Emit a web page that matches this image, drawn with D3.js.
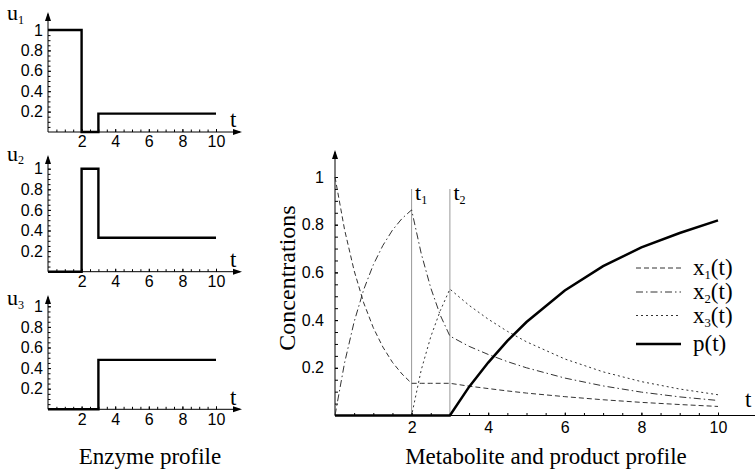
<!DOCTYPE html>
<html>
<head>
<meta charset="utf-8">
<script src="https://cdn.jsdelivr.net/npm/d3@7"></script>
<style>
  body { margin: 0; background: #fff; }
</style>
</head>
<body>
<div id="chart"></div>
<script>
// enzyme profiles (piecewise constant, value holds until next time)
const enzymeTimes = [0, 2, 3, 10];
const u1Values = [1, 0, 0.18, 0.18];
const u2Values = [0, 1, 0.33, 0.33];
const u3Values = [0, 0, 0.48, 0.48];

// metabolite and product concentrations
const times    = [0, 0.25, 0.5, 0.75, 1, 1.25, 1.5, 1.75, 2, 2.25, 2.5, 2.75, 3, 3.5, 4, 4.5, 5, 6, 7, 8, 9, 10];
const x1Values = [1, 0.779, 0.607, 0.472, 0.368, 0.287, 0.223, 0.174, 0.135, 0.135, 0.135, 0.135, 0.135, 0.123, 0.113, 0.103, 0.094, 0.079, 0.066, 0.055, 0.046, 0.038];
const x2Values = [0, 0.221, 0.393, 0.528, 0.632, 0.713, 0.777, 0.826, 0.862, 0.68, 0.535, 0.42, 0.333, 0.29, 0.256, 0.226, 0.2, 0.157, 0.124, 0.098, 0.078, 0.063];
const x3Values = [0, 0, 0, 0, 0, 0, 0, 0, 0, 0.19, 0.33, 0.44, 0.53, 0.462, 0.404, 0.353, 0.309, 0.237, 0.183, 0.142, 0.111, 0.087];
const pValues  = [0, 0, 0, 0, 0, 0, 0, 0, 0, 0, 0, 0, 0, 0.12, 0.222, 0.313, 0.392, 0.524, 0.626, 0.705, 0.765, 0.818];

const switchTimes = [2, 3];
const switchLabels = ['1', '2'];
const xTickValues = [2, 4, 6, 8, 10];
const yTickValues = [0.2, 0.4, 0.6, 0.8, 1];
const legendSubs = ['1', '2', '3'];

const serif = '"Liberation Serif", "Times New Roman", serif';
const sans = '"Liberation Sans", Arial, sans-serif';

const svg = d3.select('#chart')
    .append('svg')
    .attr('width', 755)
    .attr('height', 470);

// small helpers for arrows and subscripted labels
const arrowUp = (x, y) => svg.append('path')
    .attr('d', `M${x},${y} l-3,9 l6,0 z`).attr('fill', '#000');
const arrowRight = (x, y) => svg.append('path')
    .attr('d', `M${x},${y} l-9,-3 l0,6 z`).attr('fill', '#000');
const subLabel = (x, y, main, sub, rest, size) => {
    const t = svg.append('text')
        .attr('x', x).attr('y', y)
        .attr('font-family', serif)
        .attr('font-size', size);
    t.append('tspan').text(main);
    t.append('tspan').attr('font-size', size * 0.55).attr('dy', size * 0.18).text(sub);
    if (rest) t.append('tspan').attr('dy', -size * 0.18).text(rest);
    return t;
};
const styleAxis = g => {
    g.select('.domain').remove();
    g.selectAll('line').attr('stroke', '#000');
    g.selectAll('text').attr('font-family', sans).attr('fill', '#000');
};

// ---------- enzyme profiles (left) ----------
const panels = [
    {values: u1Values, sub: '1', y0: 132, y1: 30, arrowTop: 12, labelY: 20, tY: 127},
    {values: u2Values, sub: '2', y0: 271.7, y1: 168.7, arrowTop: 155, labelY: 160.5, tY: 266.5},
    {values: u3Values, sub: '3', y0: 409.3, y1: 306.3, arrowTop: 295, labelY: 305, tY: 405}
];
const xSmall = d3.scaleLinear().domain([0, 10]).range([48, 216]);

panels.forEach(pn => {
    const y = d3.scaleLinear().domain([0, 1]).range([pn.y0, pn.y1]);

    // minor ticks
    svg.append('g').attr('transform', `translate(0,${pn.y0})`)
        .call(d3.axisBottom(xSmall).tickValues(d3.range(0.5, 10.01, 0.5)).tickSize(-2.5).tickFormat(''))
        .call(styleAxis);
    svg.append('g').attr('transform', `translate(${xSmall(0)},0)`)
        .call(d3.axisLeft(y).tickValues(d3.range(0.05, 1.001, 0.05)).tickSize(-2.5).tickFormat(''))
        .call(styleAxis);

    // labelled ticks
    svg.append('g').attr('transform', `translate(0,${pn.y0})`)
        .call(d3.axisBottom(xSmall).tickValues(xTickValues).tickSize(-3).tickPadding(4))
        .call(styleAxis)
        .selectAll('text').attr('font-size', 16);
    svg.append('g').attr('transform', `translate(${xSmall(0)},0)`)
        .call(d3.axisLeft(y).tickValues(yTickValues).tickSize(-3).tickPadding(5).tickFormat(d3.format('')))
        .call(styleAxis)
        .selectAll('text').attr('font-size', 16);

    // axis lines with arrows
    svg.append('line').attr('x1', xSmall(0)).attr('x2', 240).attr('y1', pn.y0).attr('y2', pn.y0)
        .attr('stroke', '#000').attr('stroke-width', 1);
    arrowRight(242, pn.y0);
    svg.append('line').attr('x1', xSmall(0)).attr('x2', xSmall(0)).attr('y1', pn.y0).attr('y2', pn.arrowTop + 2)
        .attr('stroke', '#000').attr('stroke-width', 1);
    arrowUp(xSmall(0), pn.arrowTop);

    // step profile
    const line = d3.line()
        .x((d, i) => xSmall(enzymeTimes[i]))
        .y(d => y(d))
        .curve(d3.curveStepAfter);
    svg.append('path')
        .datum(pn.values)
        .attr('d', line)
        .attr('fill', 'none')
        .attr('stroke', '#000')
        .attr('stroke-width', 2.4);

    subLabel(7, pn.labelY, 'u', pn.sub, null, 22);
    svg.append('text').attr('x', 230).attr('y', pn.tY)
        .attr('font-family', serif).attr('font-size', 23).text('t');
});

svg.append('text')
    .attr('x', 150).attr('y', 464)
    .attr('text-anchor', 'middle')
    .attr('font-family', serif).attr('font-size', 23)
    .text('Enzyme profile');

// ---------- metabolite and product profile (right) ----------
const x = d3.scaleLinear().domain([0, 10]).range([335, 718]);
const y = d3.scaleLinear().domain([0, 1]).range([415.5, 177]);

// switching times
switchTimes.forEach((s, i) => {
    svg.append('line')
        .attr('x1', x(s)).attr('x2', x(s))
        .attr('y1', y(0)).attr('y2', 189)
        .attr('stroke', '#999').attr('stroke-width', 1);
    subLabel(x(s) + 3.5, 200, 't', switchLabels[i], null, 22);
});

svg.append('g').attr('transform', `translate(0,${y(0)})`)
    .call(d3.axisBottom(x).tickValues(d3.range(0.5, 10.01, 0.5)).tickSize(-2.5).tickFormat(''))
    .call(styleAxis);
svg.append('g').attr('transform', `translate(${x(0)},0)`)
    .call(d3.axisLeft(y).tickValues(d3.range(0.05, 1.001, 0.05)).tickSize(-3).tickFormat(''))
    .call(styleAxis);
svg.append('g').attr('transform', `translate(0,${y(0)})`)
    .call(d3.axisBottom(x).tickValues(xTickValues).tickSize(-3).tickPadding(6))
    .call(styleAxis)
    .selectAll('text').attr('font-size', 16);
svg.append('g').attr('transform', `translate(${x(0)},0)`)
    .call(d3.axisLeft(y).tickValues(yTickValues).tickSize(-3).tickPadding(11).tickFormat(d3.format('')))
    .call(styleAxis)
    .selectAll('text').attr('font-size', 16);

svg.append('line').attr('x1', x(0)).attr('x2', 755).attr('y1', y(0)).attr('y2', y(0))
    .attr('stroke', '#000').attr('stroke-width', 1);
svg.append('line').attr('x1', x(0)).attr('x2', x(0)).attr('y1', y(0)).attr('y2', 152)
    .attr('stroke', '#000').attr('stroke-width', 1);
arrowUp(x(0), 150);

// curves
const series = [
    {values: x1Values, dash: '5,3', width: 1, color: '#333'},
    {values: x2Values, dash: '7,3,1.5,3', width: 1, color: '#333'},
    {values: x3Values, dash: '2,3', width: 1, color: '#333'},
    {values: pValues, dash: null, width: 2.5, color: '#000'}
];
const curve = d3.line()
    .x((d, i) => x(times[i]))
    .y(d => y(d));
series.forEach(s => {
    svg.append('path')
        .datum(s.values)
        .attr('d', curve)
        .attr('fill', 'none')
        .attr('stroke', s.color)
        .attr('stroke-width', s.width)
        .attr('stroke-dasharray', s.dash);
});

// legend
const legendRows = [268, 292, 315.5, 344];
series.forEach((s, i) => {
    svg.append('line')
        .attr('x1', 636).attr('x2', 681)
        .attr('y1', legendRows[i]).attr('y2', legendRows[i])
        .attr('stroke', s.color)
        .attr('stroke-width', s.width)
        .attr('stroke-dasharray', s.dash);
    if (i < 3) subLabel(693, legendRows[i] + 7, 'x', legendSubs[i], '(t)', 23);
    else svg.append('text').attr('x', 693).attr('y', legendRows[i] + 7)
        .attr('font-family', serif).attr('font-size', 23).text('p(t)');
});

// axis titles
svg.append('text').attr('x', 745).attr('y', 407)
    .attr('font-family', serif).attr('font-size', 23).text('t');
svg.append('text')
    .attr('transform', 'translate(295,278) rotate(-90)')
    .attr('text-anchor', 'middle')
    .attr('font-family', serif).attr('font-size', 24)
    .text('Concentrations');
svg.append('text')
    .attr('x', 546).attr('y', 464)
    .attr('text-anchor', 'middle')
    .attr('font-family', serif).attr('font-size', 23)
    .text('Metabolite and product profile');
</script>
</body>
</html>
